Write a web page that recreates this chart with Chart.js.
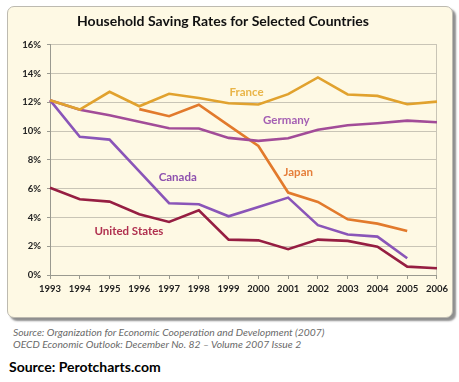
<!DOCTYPE html>
<html>
<head>
<meta charset="utf-8">
<script src="https://cdn.jsdelivr.net/npm/chart.js@4.4.1/dist/chart.umd.min.js"></script>
<style>
  html, body { margin:0; padding:0; background:#ffffff; width:459px; height:382px; overflow:hidden; font-family: Lato, "Open Sans", sans-serif; }
  #box { position:absolute; left:7px; top:6px; width:444px; height:310px; background:#FEF9E4; border:1px solid #BDBAB0; border-radius:7px; box-shadow:3px 3px 2px #8f8f8f; }
  #cv { position:absolute; left:0; top:0; }
  .src { position:absolute; left:13px; font-style:italic; font-size:10.3px; color:#6a6a6a; white-space:nowrap; }
  #src3 { position:absolute; left:9px; top:358px; font-weight:bold; font-size:14px; color:#000; white-space:nowrap; }
</style>
</head>
<body>
<div id="box"><canvas id="cv" width="444" height="310"></canvas></div>
<div class="src" style="top:326px">Source: Organization for Economic Cooperation and Development (2007)</div>
<div class="src" style="top:338px">OECD Economic Outlook: December No. 82 – Volume 2007 Issue 2</div>
<div id="src3">Source: Perotcharts.com</div>
<script>
const years = ['1993','1994','1995','1996','1997','1998','1999','2000','2001','2002','2003','2004','2005','2006'];
const yTicks = [0,2,4,6,8,10,12,14,16];
const france  = [12.15,11.5,12.73,11.73,12.6,12.3,11.94,11.85,12.57,13.73,12.55,12.45,11.87,12.05];
const japan   = [null,null,null,11.53,11.04,11.83,10.4,8.97,5.73,5.08,3.87,3.57,3.06,null];
const germany = [12.15,11.48,11.1,10.65,10.2,10.18,9.53,9.32,9.51,10.09,10.41,10.55,10.73,10.62];
const canada  = [12.15,9.6,9.41,7.2,4.99,4.92,4.08,4.73,5.38,3.46,2.81,2.67,1.16,null];
const usa     = [6.07,5.26,5.1,4.22,3.69,4.5,2.46,2.41,1.79,2.46,2.37,1.97,0.58,0.47];
// series label anchors: [category index, value]
const labelNames = ['France','Germany','Japan','Canada','United States'];
const labelAnchors = [[6.6,12.73],[7.94,10.78],[8.34,7.12],[4.29,6.77],[2.65,3.01]];
const labelColors = ['#E9B548','#A45FB3','#E57E3A','#8E51AE','#B0304F'];

const seriesLabels = {
  id:'seriesLabels',
  afterDatasetsDraw(chart){
    const {ctx, scales:{x,y}} = chart;
    ctx.save();
    ctx.font = 'bold 11.5px Lato, "Open Sans", sans-serif';
    ctx.textAlign='center'; ctx.textBaseline='middle';
    labelNames.forEach((n,i)=>{
      const a = labelAnchors[i];
      const px = x.getPixelForValue(0) + (x.getPixelForValue(1)-x.getPixelForValue(0))*a[0];
      ctx.fillStyle = labelColors[i];
      ctx.fillText(n, px, y.getPixelForValue(a[1]));
    });
    ctx.restore();
  }
};

const ds = (label, data, color) => ({label, data, borderColor:color, backgroundColor:color, borderWidth:2.6, pointRadius:0, tension:0, spanGaps:false});
const lastIdx = years.length-1;
new Chart(document.getElementById('cv'), {
  type:'line',
  data:{ labels:years, datasets:[
    ds('France', france, '#E1A22E'),
    ds('Germany', germany, '#A24C98'),
    ds('Japan', japan, '#E27A2C'),
    ds('Canada', canada, '#8A55B8'),
    ds('United States', usa, '#961E42')
  ]},
  options:{
    responsive:false, animation:false,
    layout:{ padding:{ left:0, right:14, top:0, bottom:0 } },
    plugins:{
      legend:{display:false}, tooltip:{enabled:false},
      title:{ display:true, text:'Household Saving Rates for Selected Countries', color:'#111',
        font:{ family:'Lato, "Open Sans", sans-serif', size:14, weight:'bold' }, padding:{top:6, bottom:15} }
    },
    scales:{
      x:{
        offset:false,
        grid:{ drawOnChartArea:true, color:(c)=> c.index===lastIdx ? '#C9C5B6' : 'rgba(0,0,0,0)', tickColor:'#9a9a90', tickLength:4, lineWidth:1 },
        border:{ display:true, color:'#9a9a90' },
        ticks:{ color:'#222', font:{ family:'Lato, "Open Sans", sans-serif', size:9.5, weight:'bold' }, padding:4, maxRotation:0, autoSkip:false },
        afterFit:(s)=>{ s.height = 42; }
      },
      y:{
        min:0, max:16,
        afterBuildTicks:(s)=>{ s.ticks = yTicks.map(v=>({value:v})); },
        grid:{ color:'#C9C5B6', tickColor:'#9a9a90', tickLength:3 },
        border:{ display:true, color:'#9a9a90' },
        ticks:{ color:'#222', font:{ family:'Lato, "Open Sans", sans-serif', size:9.5, weight:'bold' }, padding:6, callback:(v)=> v+'%' },
        afterFit:(s)=>{ s.width = 42; }
      }
    }
  },
  plugins:[seriesLabels]
});
</script>
</body>
</html>
